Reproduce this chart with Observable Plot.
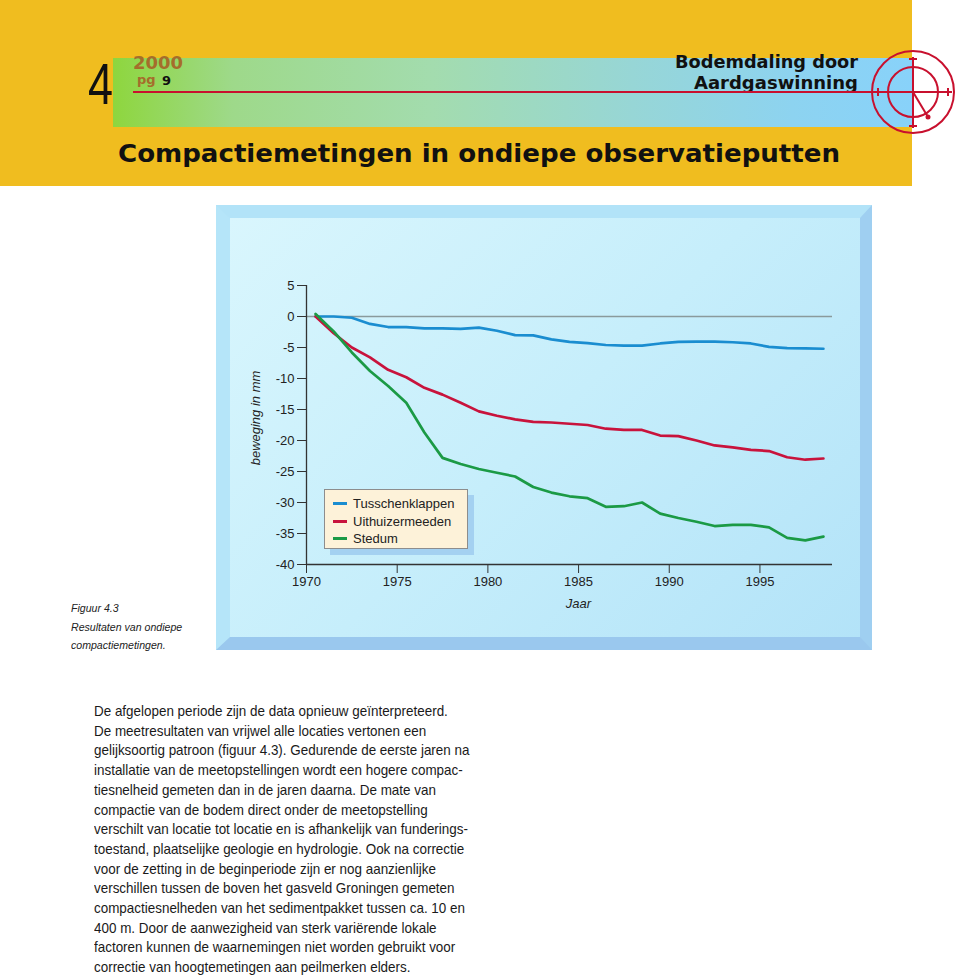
<!DOCTYPE html>
<html>
<head>
<meta charset="utf-8">
<script src="https://cdn.jsdelivr.net/npm/d3@7"></script>
<script src="https://cdn.jsdelivr.net/npm/@observablehq/plot@0.6"></script>
<style>
  html, body { margin: 0; padding: 0; background: #fff; }
  body { width: 960px; height: 979px; position: relative; overflow: hidden; }
  #header { position: absolute; left: 0; top: 0; }
  #frame { position: absolute; left: 216px; top: 205px; width: 630px; height: 419px;
    border-style: solid; border-width: 13px 12px 13px 14px;
    border-color: #b2e3f8 #9fcff1 #9ac8ee #b5e5f9;
    background: linear-gradient(135deg, #d9f6fd 0%, #c6eefb 50%, #b3e3f8 100%); }
  #chart { position: absolute; left: 230px; top: 218px; }
  #legend { position: absolute; left: 324px; top: 489px; width: 142px; height: 58px;
    background: #fdf2d9; border: 1px solid #8d8d8d; box-shadow: 6px 6px 0 #a4d1f1;
    font-family: "Liberation Sans", Arial, sans-serif; font-size: 13px; color: #222; }
  .lg-row { position: absolute; left: 8px; height: 17px; line-height: 17px; white-space: nowrap; }
  .lg-sw { display: inline-block; width: 14px; height: 3px; vertical-align: middle; margin-right: 6px; position: relative; top: -1px; }
  #caption { position: absolute; left: 71px; top: 599px; font-family: "Liberation Sans", Arial, sans-serif;
    font-style: italic; font-size: 11.5px; line-height: 18.5px; color: #222; white-space: nowrap;
    transform: scaleX(0.92); transform-origin: 0 0; }
  #body { position: absolute; left: 94px; top: 702px; font-family: "Liberation Sans", Arial, sans-serif;
    font-size: 14.5px; line-height: 19.7px; color: #1a1a1a; white-space: nowrap;
    transform: scaleX(0.926); transform-origin: 0 0; }
</style>
</head>
<body>
<svg id="header" width="960" height="190" xmlns="http://www.w3.org/2000/svg">
  <defs>
    <linearGradient id="band" x1="0" x2="1" y1="0" y2="0">
      <stop offset="0" stop-color="#8ed63e"/>
      <stop offset="0.15" stop-color="#9ed98a"/>
      <stop offset="0.4" stop-color="#a3dcae"/>
      <stop offset="0.65" stop-color="#97d6d6"/>
      <stop offset="0.85" stop-color="#8dd3f0"/>
      <stop offset="1" stop-color="#88d2fa"/>
    </linearGradient>
  </defs>
  <rect x="0" y="0" width="912" height="186" fill="#f0bd1f"/>
  <rect x="113" y="58" width="799" height="69" fill="url(#band)"/>
  <text x="88" y="104" font-family="Liberation Sans, sans-serif" font-size="58" fill="#111" textLength="25" lengthAdjust="spacingAndGlyphs">4</text>
  <text x="133" y="69" font-family="DejaVu Sans, sans-serif" font-weight="bold" font-size="18" fill="#a56d2b" textLength="50" lengthAdjust="spacingAndGlyphs">2000</text>
  <text x="137" y="84" font-family="DejaVu Sans, sans-serif" font-weight="bold" font-size="13" fill="#a56d2b">pg</text>
  <text x="162" y="85" font-family="DejaVu Sans, sans-serif" font-weight="bold" font-size="13" fill="#111">9</text>
  <text x="858" y="68" text-anchor="end" font-family="DejaVu Sans, sans-serif" font-weight="bold" font-size="17.5" fill="#111" textLength="183" lengthAdjust="spacingAndGlyphs">Bodemdaling door</text>
  <text x="858" y="89" text-anchor="end" font-family="DejaVu Sans, sans-serif" font-weight="bold" font-size="17.5" fill="#111" textLength="164" lengthAdjust="spacingAndGlyphs">Aardgaswinning</text>
  <line x1="133" y1="92" x2="952" y2="92" stroke="#c8102e" stroke-width="2"/>
  <g fill="none" stroke="#c8102e" stroke-width="2">
    <circle cx="913" cy="92" r="41"/>
    <circle cx="913" cy="92" r="25"/>
    <line x1="913" y1="57" x2="913" y2="128"/>
    <line x1="909" y1="59" x2="917" y2="59"/>
    <line x1="909" y1="126" x2="917" y2="126"/>
    <line x1="878" y1="88" x2="878" y2="96"/>
    <line x1="948" y1="88" x2="948" y2="96"/>
    <line x1="913" y1="92" x2="928" y2="117"/>
  </g>
  <circle cx="928" cy="117" r="2.5" fill="#c8102e"/>
  <text x="118" y="162" font-family="DejaVu Sans, sans-serif" font-weight="bold" font-size="25" fill="#111" textLength="722" lengthAdjust="spacingAndGlyphs">Compactiemetingen in ondiepe observatieputten</text>
</svg>

<div id="frame"></div>
<div id="chart"></div>
<div id="legend"></div>

<div id="caption">
  <div>Figuur 4.3</div>
  <div>Resultaten van ondiepe</div>
  <div>compactiemetingen.</div>
</div>

<div id="body"></div>

<script>
// ---- data ----
const years = [1970.5, 1971.5, 1972.5, 1973.5, 1974.5, 1975.5, 1976.5, 1977.5, 1978.5, 1979.5,
               1980.5, 1981.5, 1982.5, 1983.5, 1984.5, 1985.5, 1986.5, 1987.5, 1988.5, 1989.5,
               1990.5, 1991.5, 1992.5, 1993.5, 1994.5, 1995.5, 1996.5, 1997.5, 1998.5];
const tusschenklappen = [0, 0, -0.2, -1.2, -1.7, -1.7, -1.9, -1.9, -2.0, -1.8,
                         -2.3, -3.0, -3.05, -3.7, -4.1, -4.3, -4.6, -4.7, -4.7, -4.35,
                         -4.1, -4.05, -4.05, -4.15, -4.35, -4.9, -5.1, -5.15, -5.2];
const uithuizermeeden = [0, -2.7, -5.0, -6.6, -8.6, -9.8, -11.5, -12.6, -13.9, -15.3,
                         -16.0, -16.6, -17.0, -17.1, -17.3, -17.5, -18.1, -18.3, -18.3, -19.2,
                         -19.3, -20.0, -20.8, -21.1, -21.5, -21.7, -22.7, -23.1, -22.9];
const stedum = [0.4, -2.4, -5.8, -8.8, -11.2, -13.9, -18.7, -22.8, -23.8, -24.6,
                -25.2, -25.8, -27.5, -28.4, -29.0, -29.3, -30.7, -30.6, -30.0, -31.8,
                -32.5, -33.1, -33.8, -33.6, -33.6, -34.0, -35.7, -36.1, -35.5];
const seriesNames = ["Tusschenklappen", "Uithuizermeeden", "Stedum"];
const seriesColors = ["#1a8dd0", "#c8133c", "#1b9a45"];
const xTicks = [1970, 1975, 1980, 1985, 1990, 1995];
const yTicks = [5, 0, -5, -10, -15, -20, -25, -30, -35, -40];
const xDomain = [1970, 1999];
const yDomain = [-40, 5];
const yLabel = "beweging in mm";
const xLabel = "Jaar";
const bodyLines = [
  "De afgelopen periode zijn de data opnieuw geïnterpreteerd.",
  "De meetresultaten van vrijwel alle locaties vertonen een",
  "gelijksoortig patroon (figuur 4.3). Gedurende de eerste jaren na",
  "installatie van de meetopstellingen wordt een hogere compac-",
  "tiesnelheid gemeten dan in de jaren daarna. De mate van",
  "compactie van de bodem direct onder de meetopstelling",
  "verschilt van locatie tot locatie en is afhankelijk van funderings-",
  "toestand, plaatselijke geologie en hydrologie. Ook na correctie",
  "voor de zetting in de beginperiode zijn er nog aanzienlijke",
  "verschillen tussen de boven het gasveld Groningen gemeten",
  "compactiesnelheden van het sedimentpakket tussen ca. 10 en",
  "400 m. Door de aanwezigheid van sterk variërende lokale",
  "factoren kunnen de waarnemingen niet worden gebruikt voor",
  "correctie van hoogtemetingen aan peilmerken elders."
];

// ---- table ----
const seriesValues = [tusschenklappen, uithuizermeeden, stedum];
const rows = [];
seriesNames.forEach((name, i) => {
  years.forEach((yr, j) => rows.push({series: name, year: yr, value: seriesValues[i][j]}));
});

const chart = Plot.plot({
  width: 630,
  height: 419,
  marginLeft: 76,
  marginRight: 28,
  marginTop: 67,
  marginBottom: 73,
  style: {background: "transparent", fontFamily: "'Liberation Sans', Arial, sans-serif", fontSize: "13px", color: "#222"},
  x: {domain: xDomain, label: null},
  y: {domain: yDomain, label: null},
  color: {domain: seriesNames, range: seriesColors},
  marks: [
    Plot.ruleY([0], {stroke: "#8a9a9c", strokeWidth: 1.6}),
    Plot.ruleX([xDomain[0]], {y1: yDomain[0], y2: yDomain[1], stroke: "#333", strokeWidth: 1.3}),
    Plot.ruleY([yDomain[0]], {stroke: "#333", strokeWidth: 1.3}),
    Plot.axisX({ticks: xTicks, tickSize: 9, tickPadding: 3, tickFormat: d => String(d), label: null, fontSize: 13, stroke: "#333"}),
    Plot.axisY({ticks: yTicks, tickSize: 9, tickPadding: 3, tickFormat: d => String(d), label: null, fontSize: 13, stroke: "#333"}),
    Plot.line(rows, {x: "year", y: "value", z: "series", stroke: "series", strokeWidth: 2.7, strokeLinejoin: "round"}),
    Plot.text([yLabel], {frameAnchor: "left", dx: -51, dy: -7, rotate: -90, textAnchor: "middle", fontStyle: "italic", fontSize: 13, fill: "#222", text: d => d}),
    Plot.text([xLabel], {frameAnchor: "bottom", dx: 9, dy: 43, textAnchor: "middle", fontStyle: "italic", fontSize: 13, fill: "#222", text: d => d})
  ]
});
document.getElementById("chart").appendChild(chart);

// legend
const legend = document.getElementById("legend");
seriesNames.forEach((name, i) => {
  const row = document.createElement("div");
  row.className = "lg-row";
  row.style.top = (5 + i * 17.5) + "px";
  const sw = document.createElement("span");
  sw.className = "lg-sw";
  sw.style.background = seriesColors[i];
  row.appendChild(sw);
  row.appendChild(document.createTextNode(name));
  legend.appendChild(row);
});

// body text
const body = document.getElementById("body");
bodyLines.forEach(t => {
  const d = document.createElement("div");
  d.textContent = t;
  body.appendChild(d);
});
</script>
</body>
</html>
